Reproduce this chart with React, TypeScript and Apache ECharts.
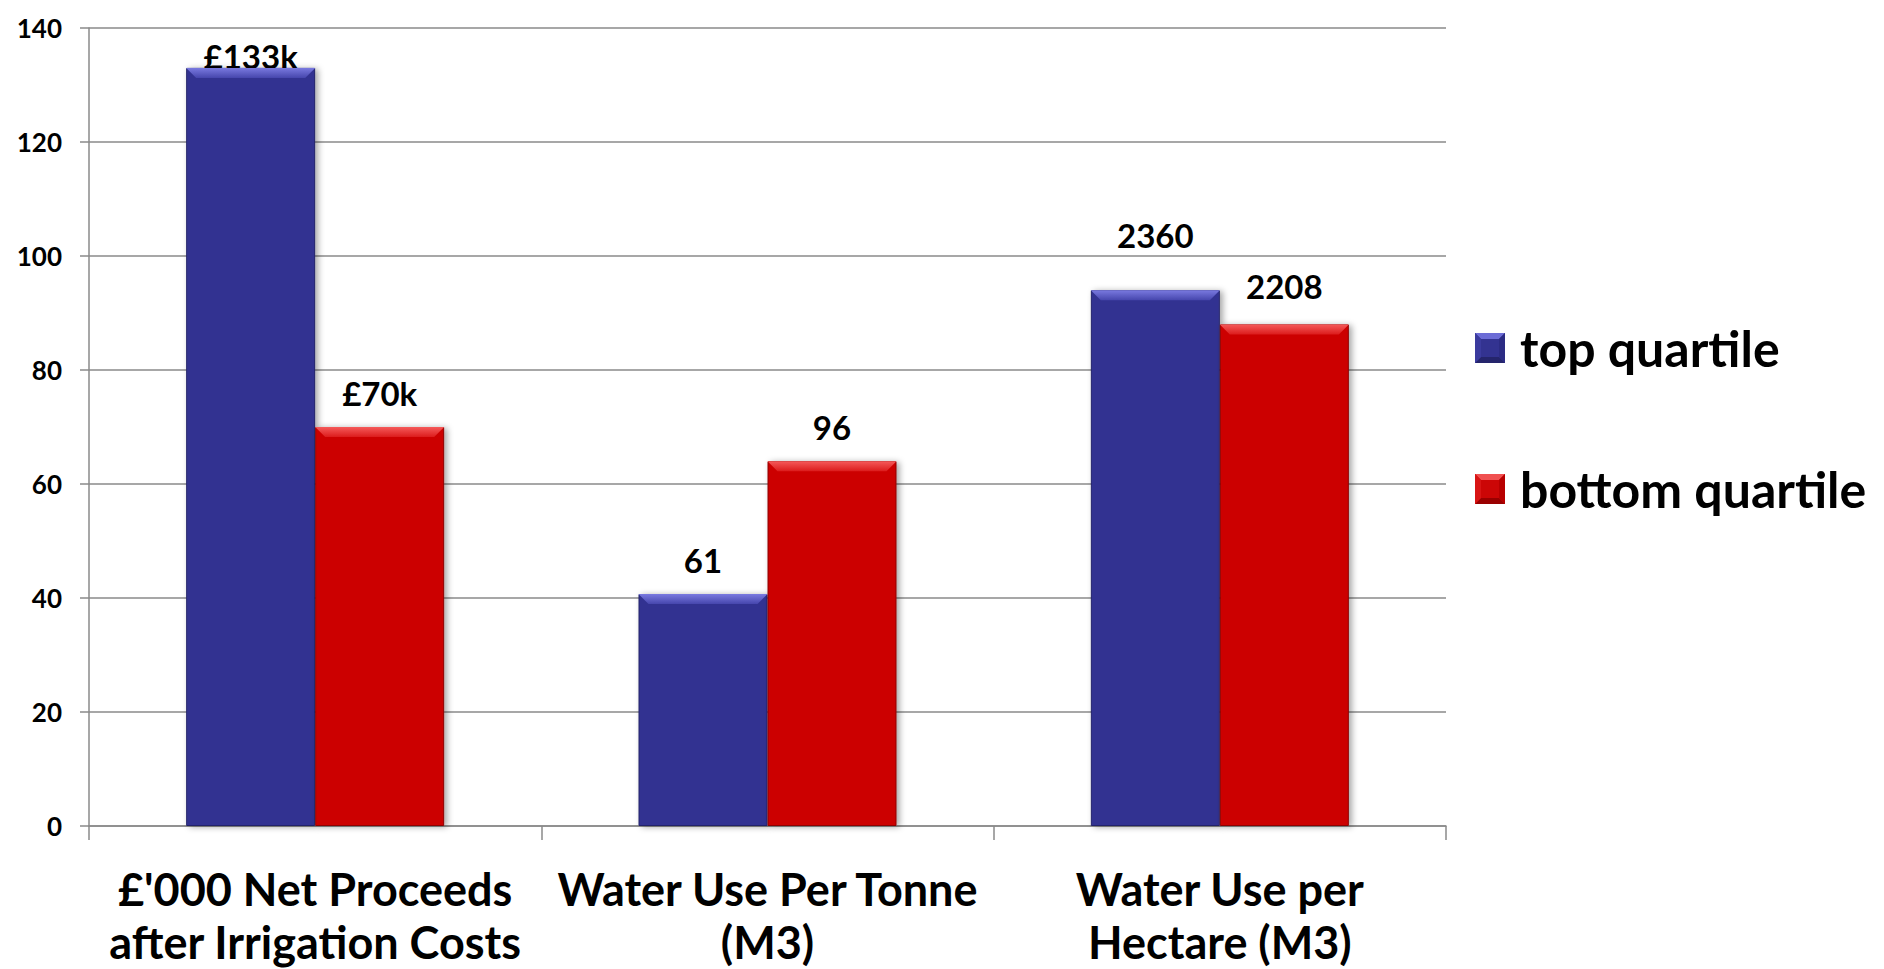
import React, { useEffect, useRef } from "react";
import * as echarts from "echarts";

// ---- data ----
const categories = [
  "£'000 Net Proceeds\nafter Irrigation Costs",
  "Water Use Per Tonne\n(M3)",
  "Water Use per\nHectare (M3)",
];
const seriesNames = ["top quartile", "bottom quartile"];
const topValues = [133, 40.7, 94];
const bottomValues = [70, 64, 88];
const topLabels = ["£133k", "61", "2360"];
const bottomLabels = ["£70k", "96", "2208"];
const yMin = 0;
const yMax = 140;
const yStep = 20;

// ---- style ----
const FONT = "Lato, 'Open Sans', sans-serif";
const BAR_W = 129;
const BLUE = "#333391";
const RED = "#CC0606";
const GRID_COLOR = "#8a8a8a";
const topLabelDistance = [-5, 17, 38];
const bottomLabelDistance = [17, 17, 21];

const iconSvg = (base: string, light: string, dark: string, side: string, side2: string) =>
  "image://data:image/svg+xml;charset=utf-8," +
  encodeURIComponent(
    `<svg xmlns='http://www.w3.org/2000/svg' width='30' height='30' viewBox='0 0 30 30'>` +
      `<rect width='30' height='30' fill='${base}'/>` +
      `<polygon points='0,0 30,0 24,6 6,6' fill='${light}'/>` +
      `<polygon points='0,30 30,30 24,24 6,24' fill='${dark}'/>` +
      `<polygon points='0,0 6,6 6,24 0,30' fill='${side}'/>` +
      `<polygon points='30,0 24,6 24,24 30,30' fill='${side2}'/>` +
      `</svg>`
  );

const bevel = (offset: number, c0: string, c1: string) => (params: any, api: any) => {
  const i = api.value(0);
  const v = api.value(1);
  const p = api.coord([i, v]);
  const x0 = p[0] + offset - BAR_W / 2;
  const x1 = x0 + BAR_W;
  const y = p[1];
  const b = 10;
  return {
    type: "group",
    children: [
      {
        type: "polygon",
        shape: { points: [[x0, y], [x1, y], [x1 - b, y + b], [x0 + b, y + b]] },
        style: {
          fill: new echarts.graphic.LinearGradient(0, 0, 0, 1, [
            { offset: 0, color: c0 },
            { offset: 1, color: c1 },
          ]),
        },
      },
    ],
  };
};

export default function App() {
  const ref = useRef<HTMLDivElement>(null);
  useEffect(() => {
    if (!ref.current) return;
    const chart = echarts.init(ref.current, undefined, { renderer: "svg" });
    const labelBase = {
      show: true,
      position: "top",
      color: "#000",
      fontFamily: FONT,
      fontWeight: "bold",
      fontSize: 33,
      lineHeight: 34,
    };
    const barItem = (color: string, border: string) => ({
      color,
      borderColor: border,
      borderWidth: 1,
      shadowColor: "rgba(0,0,0,0.35)",
      shadowBlur: 6,
      shadowOffsetX: 3,
      shadowOffsetY: 1,
    });
    chart.setOption({
      animation: false,
      backgroundColor: "#fff",
      grid: { left: 89, right: 438, top: 28, bottom: 143, containLabel: false },
      legend: {
        data: [
          { name: seriesNames[0], icon: iconSvg(BLUE, "#6c6cd6", "#25256c", "#3b3b9e", "#2c2c84") },
          { name: seriesNames[1], icon: iconSvg(RED, "#f05050", "#9a0000", "#d81414", "#b80000") },
        ],
        orient: "vertical",
        left: 1475,
        top: 323,
        padding: 0,
        itemWidth: 30,
        itemHeight: 30,
        itemGap: 91,
        textStyle: {
          fontFamily: FONT,
          fontWeight: "bold",
          fontSize: 50,
          lineHeight: 50,
          color: "#000",
          padding: [0, 0, 0, 10],
        },
      },
      xAxis: {
        type: "category",
        data: categories,
        axisLine: { show: true, lineStyle: { color: GRID_COLOR, width: 1.5 } },
        axisTick: { show: true, length: 14, lineStyle: { color: GRID_COLOR, width: 1.5 } },
        axisLabel: {
          margin: 36,
          color: "#000",
          fontFamily: FONT,
          fontWeight: "bold",
          fontSize: 45,
          lineHeight: 53,
          interval: 0,
        },
      },
      yAxis: {
        type: "value",
        min: yMin,
        max: yMax,
        interval: yStep,
        axisLine: { show: true, lineStyle: { color: GRID_COLOR, width: 1.5 } },
        axisTick: { show: true, length: 9, lineStyle: { color: GRID_COLOR, width: 1.5 } },
        splitLine: { show: true, lineStyle: { color: GRID_COLOR, width: 1.5 } },
        axisLabel: {
          margin: 27,
          color: "#000",
          fontFamily: FONT,
          fontWeight: "bold",
          fontSize: 26,
        },
      },
      series: [
        {
          name: seriesNames[0],
          type: "bar",
          barWidth: BAR_W,
          barGap: "0%",
          itemStyle: barItem(BLUE, "#24246a"),
          data: topValues.map((v, i) => ({
            value: v,
            label: { ...labelBase, formatter: topLabels[i], distance: topLabelDistance[i] },
          })),
        },
        {
          name: seriesNames[1],
          type: "bar",
          barWidth: BAR_W,
          barGap: "0%",
          itemStyle: barItem(RED, "#8e0000"),
          data: bottomValues.map((v, i) => ({
            value: v,
            label: { ...labelBase, formatter: bottomLabels[i], distance: bottomLabelDistance[i] },
          })),
        },
        {
          name: "bevel-top",
          type: "custom",
          silent: true,
          z: 3,
          renderItem: bevel(-BAR_W / 2, "#7a7ae0", "#4646ad"),
          data: topValues.map((v, i) => [i, v]),
          encode: { x: 0, y: 1 },
        },
        {
          name: "bevel-bottom",
          type: "custom",
          silent: true,
          z: 3,
          renderItem: bevel(BAR_W / 2, "#f55a5a", "#dc1c1c"),
          data: bottomValues.map((v, i) => [i, v]),
          encode: { x: 0, y: 1 },
        },
      ],
    });
    return () => chart.dispose();
  }, []);
  return (
    <div
      ref={ref}
      style={{ position: "absolute", left: 0, top: 0, width: 1884, height: 969 }}
    />
  );
}
